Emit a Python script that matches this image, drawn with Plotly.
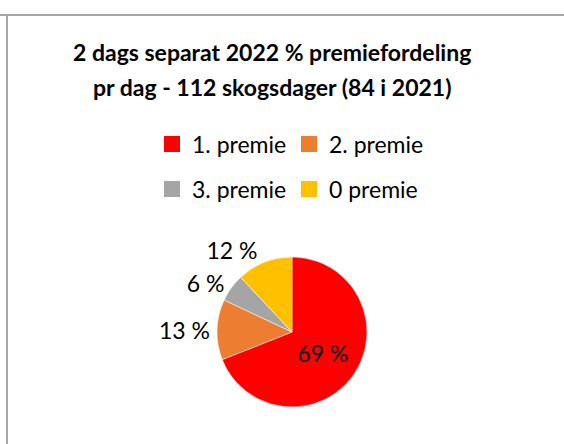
import plotly.graph_objects as go

categories = ["1. premie", "2. premie", "3. premie", "0 premie"]
values = [69, 13, 6, 12]
colors = ["#FF0000", "#ED7D31", "#A5A5A5", "#FFC000"]
title_lines = ["2 dags separat 2022 % premiefordeling", "pr dag - 112 skogsdager (84 i 2021)"]

W, H = 564, 444
FONT = "Lato"

fig = go.Figure()

cx, cy, r = 292, 332, 75
fig.add_trace(go.Pie(
    labels=categories,
    values=values,
    text=[f"{v} %" for v in values],
    textinfo="text",
    textposition=["inside", "outside", "outside", "outside"],
    insidetextorientation="horizontal",
    marker=dict(colors=colors, line=dict(color="white", width=0.5)),
    sort=False,
    direction="clockwise",
    rotation=0,
    showlegend=False,
    textfont=dict(family=FONT, size=23, color="black"),
    domain=dict(x=[(cx - r) / W, (cx + r) / W], y=[(H - cy - r) / H, (H - cy + r) / H]),
    hoverinfo="label+percent",
))

# legend entries (two rows)
for i, (name, col) in enumerate(zip(categories, colors)):
    fig.add_trace(go.Scatter(
        x=[None], y=[None], mode="markers", name=name,
        marker=dict(symbol="square", size=16, color=col),
        legend="legend" if i < 2 else "legend2",
        showlegend=True,
    ))

legend_common = dict(
    orientation="h", xanchor="left", yanchor="middle",
    font=dict(family=FONT, size=23, color="black"),
    bgcolor="rgba(0,0,0,0)", entrywidth=92, traceorder="normal",
    itemclick=False, itemdoubleclick=False,
)

title_y = [52, 87]
annotations = [
    dict(text="<b>" + t + "</b>", x=272 / W, y=1 - yy / H, xref="paper", yref="paper",
         xanchor="center", yanchor="middle", showarrow=False,
         font=dict(family=FONT, size=23, color="black"))
    for t, yy in zip(title_lines, title_y)
]

fig.update_layout(
    width=W, height=H,
    margin=dict(l=0, r=0, t=0, b=0),
    paper_bgcolor="white", plot_bgcolor="white",
    annotations=annotations,
    xaxis=dict(visible=False), yaxis=dict(visible=False),
    legend=dict(x=152 / W, y=1 - 144 / H, **legend_common),
    legend2=dict(x=152 / W, y=1 - 189 / H, **legend_common),
    shapes=[
        dict(type="line", xref="paper", yref="paper", x0=0, x1=1, y0=1 - 15 / H, y1=1 - 15 / H,
             line=dict(color="#A6A6A6", width=2)),
        dict(type="line", xref="paper", yref="paper", x0=7 / W, x1=7 / W, y0=0, y1=1 - 15 / H,
             line=dict(color="#A6A6A6", width=2)),
    ],
)

fig.write_html(
    "out.html",
    config={"displayModeBar": False},
    post_script="document.body.style.margin='0';document.body.style.overflow='hidden';",
)
